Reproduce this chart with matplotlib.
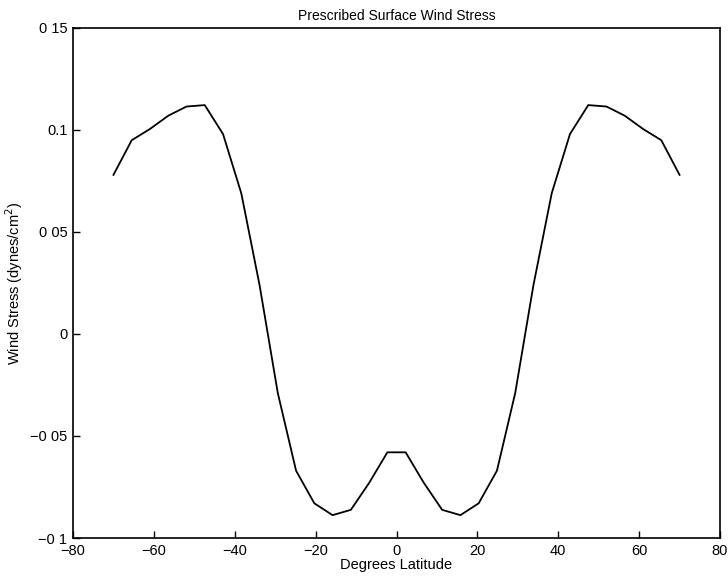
import numpy as np
import matplotlib.pyplot as plt

plt.rcParams['font.family'] = ['Liberation Sans', 'DejaVu Sans']

# latitude points (deg) and prescribed surface wind stress (dynes/cm^2)
lat = [-70.00, -65.48, -60.97, -56.45, -51.94, -47.42, -42.90, -38.39,
       -33.87, -29.35, -24.84, -20.32, -15.81, -11.29, -6.77, -2.26,
       2.26, 6.77, 11.29, 15.81, 20.32, 24.84, 29.35, 33.87,
       38.39, 42.90, 47.42, 51.94, 56.45, 60.97, 65.48, 70.00]
tau = [0.078, 0.095, 0.1005, 0.107, 0.1115, 0.1122, 0.098, 0.069,
       0.024, -0.029, -0.067, -0.083, -0.0888, -0.0862, -0.073, -0.058,
       -0.058, -0.073, -0.0862, -0.0888, -0.083, -0.067, -0.029, 0.024,
       0.069, 0.098, 0.1122, 0.1115, 0.107, 0.1005, 0.095, 0.078]

xticks = [-80, -60, -40, -20, 0, 20, 40, 60, 80]
yticks = [-0.1, -0.05, 0, 0.05, 0.1, 0.15]
ytick_labels = ['\u22120 1', '\u22120 05', '0', '0 05', '0.1', '0 15']

fig = plt.figure(figsize=(7.28, 5.82), dpi=100)
ax = fig.add_axes([0.1003, 0.0756, 0.8887, 0.8763])
ax.plot(lat, tau, color='black', linewidth=1.3)

ax.set_xlim(-80, 80)
ax.set_ylim(-0.1, 0.15)
ax.set_xticks(xticks)
ax.set_xticklabels([str(t).replace('-', '\u2212') for t in xticks])
ax.set_yticks(yticks)
ax.set_yticklabels(ytick_labels)
ax.tick_params(direction='in', length=5, width=1, labelsize=10.5, pad=4)
for s in ax.spines.values():
    s.set_linewidth(1.2)

ax.set_title('Prescribed Surface Wind Stress', fontsize=10, pad=6)
ax.set_xlabel('Degrees Latitude', fontsize=10.5, labelpad=0)
ax.set_ylabel('Wind Stress (dynes/cm$^2$)', fontsize=10.5, labelpad=4)

fig.savefig('out.png', dpi=100)
